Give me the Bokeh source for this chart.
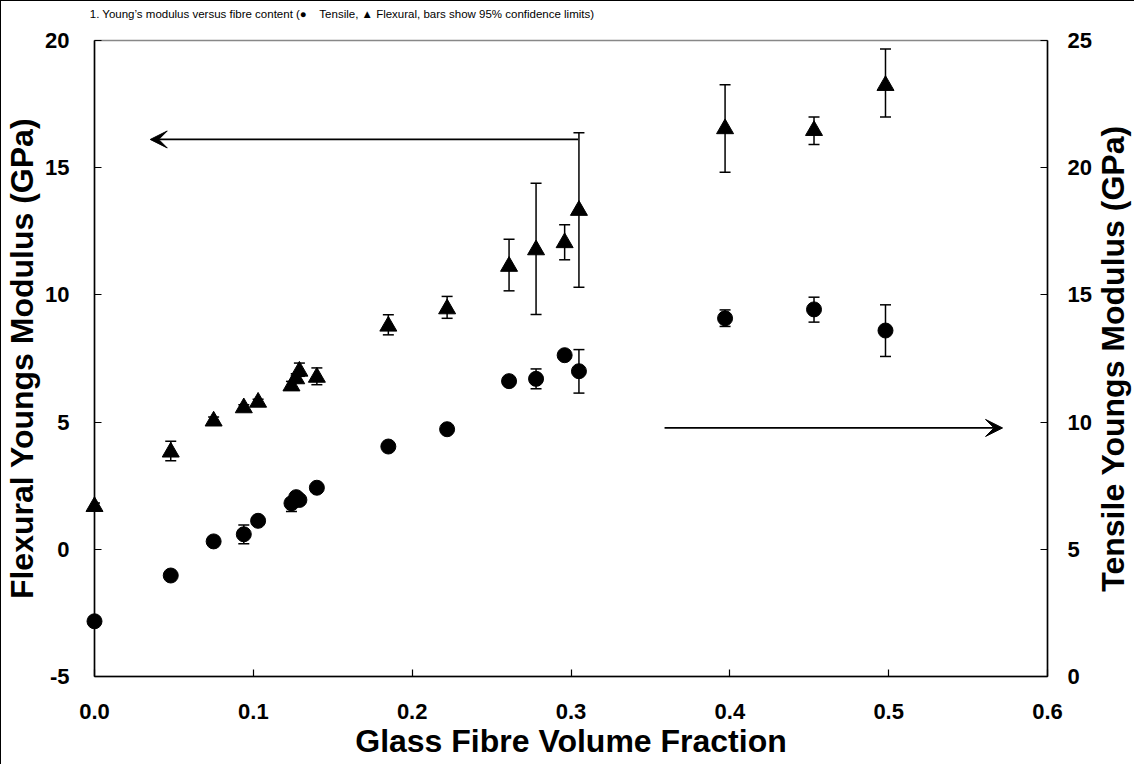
import math
from bokeh.plotting import figure
from bokeh.models import (Range1d, LinearAxis, FixedTicker, NumeralTickFormatter,
                          ColumnDataSource, Whisker, TeeHead, Arrow, VeeHead)
from bokeh.core.properties import value
from bokeh.embed import file_html
from bokeh.resources import INLINE

# ---- data ----
fibre_fraction = [0.0, 0.048, 0.075, 0.094, 0.103, 0.124, 0.127, 0.129, 0.140,
                  0.185, 0.222, 0.261, 0.278, 0.296, 0.305, 0.397, 0.453, 0.498]

flexural = [1.68, 3.82, 5.04, 5.56, 5.78, 6.42, 6.70, 7.00, 6.76,
            8.77, 9.45, 11.12, 11.77, 12.05, 13.32, 16.53, 16.46, 18.23]
flexural_lo = [1.55, 3.48, 4.90, 5.45, 5.68, 6.30, 6.55, 6.80, 6.47,
               8.43, 9.08, 10.16, 9.23, 11.38, 10.30, 14.82, 15.91, 16.99]
flexural_hi = [1.82, 4.25, 5.20, 5.68, 5.90, 6.60, 6.90, 7.32, 7.13,
               9.22, 9.94, 12.19, 14.39, 12.76, 16.37, 18.26, 16.99, 19.67]

tensile = [2.17, 3.97, 5.31, 5.59, 6.12, 6.81, 7.05, 6.94, 7.42,
           9.04, 9.72, 11.61, 11.70, 12.63, 12.00, 14.08, 14.43, 13.60]
tensile_lo = [2.07, 3.87, 5.21, 5.22, 6.02, 6.49, 6.95, 6.84, 7.32,
              8.94, 9.62, 11.51, 11.31, 12.53, 11.14, 13.76, 13.93, 12.58]
tensile_hi = [2.27, 4.07, 5.41, 5.96, 6.22, 6.91, 7.15, 7.04, 7.52,
              9.14, 9.82, 11.71, 12.09, 12.73, 12.85, 14.41, 14.91, 14.61]

x_ticks = [0.0, 0.1, 0.2, 0.3, 0.4, 0.5, 0.6]
left_ticks = [-5, 0, 5, 10, 15, 20]
right_ticks = [0, 5, 10, 15, 20, 25]

title_text = ("1. Young\u2019s modulus versus fibre content (\u25cf\u00a0\u00a0\u00a0 Tensile, "
              "\u25b2 Flexural, bars show 95% confidence limits)")
x_label = "Glass Fibre Volume Fraction"
left_label = "Flexural Youngs Modulus (GPa)"
right_label = "Tensile Youngs Modulus (GPa)"

# arrows pointing to the axes (data units of the left axis)
flex_arrow = dict(x_start=0.3045, x_end=0.0351, y=16.11)
tens_arrow = dict(x_start=0.3589, x_end=0.5717, y=4.77)

# margin text anchors (data units of the x / left axis)
title_pos = dict(x=-0.003, y=21.06)
right_label_pos = dict(x=0.6415, y=7.5)

FONT = "Liberation Sans"

p = figure(width=1134, height=764, x_range=Range1d(0, 0.6), y_range=Range1d(-5, 20),
           output_backend="svg", toolbar_location=None,
           min_border_left=93, min_border_right=88, min_border_top=39, min_border_bottom=89)
p.extra_y_ranges = {"right": Range1d(0, 25)}
p.add_layout(LinearAxis(y_range_name="right"), "right")

p.xgrid.visible = False
p.ygrid.visible = False
p.outline_line_color = "#888888"
p.outline_line_width = 1.5
p.background_fill_color = "white"
p.border_fill_color = "white"
p.styles = {"border-left": "1px solid black", "border-top": "1px solid black"}

for ax in p.xaxis + p.yaxis:
    ax.axis_line_color = "black"
    ax.axis_line_width = 1.5
    ax.major_tick_line_color = "black"
    ax.major_tick_line_width = 1.2
    ax.major_tick_in = 7
    ax.major_tick_out = 0
    ax.minor_tick_line_color = None
    ax.major_label_text_font = FONT
    ax.major_label_text_font_style = "bold"
    ax.major_label_text_font_size = "22px"
    ax.major_label_text_color = "black"
    ax.axis_label_text_font = FONT
    ax.axis_label_text_font_style = "bold"
    ax.axis_label_text_font_size = "32px"
    ax.axis_label_text_color = "black"

xa = p.xaxis[0]
xa.ticker = FixedTicker(ticks=x_ticks)
xa.formatter = NumeralTickFormatter(format="0.0")
xa.axis_label = x_label
xa.major_label_standoff = 27
xa.axis_label_standoff = 1

la = p.yaxis[0]
la.ticker = FixedTicker(ticks=left_ticks)
la.major_label_overrides = {t: str(t) for t in left_ticks}
la.axis_label = left_label
la.major_label_standoff = 25
la.axis_label_standoff = 2

ra = p.yaxis[1]
ra.ticker = FixedTicker(ticks=right_ticks)
ra.major_label_standoff = 20

src = ColumnDataSource(dict(x=fibre_fraction,
                            flex=flexural, flex_lo=flexural_lo, flex_hi=flexural_hi,
                            tens=tensile, tens_lo=tensile_lo, tens_hi=tensile_hi))

def tee():
    return TeeHead(size=11, line_width=1.5, line_color="black")

p.add_layout(Whisker(source=src, base="x", lower="flex_lo", upper="flex_hi",
                     dimension="height", line_width=1.5, line_color="black",
                     lower_head=tee(), upper_head=tee()))
p.add_layout(Whisker(source=src, base="x", lower="tens_lo", upper="tens_hi",
                     dimension="height", line_width=1.5, line_color="black",
                     lower_head=tee(), upper_head=tee(), y_range_name="right"))

r1 = p.scatter("x", "flex", source=src, marker="triangle", size=17,
               fill_color="black", line_color="black")
r2 = p.scatter("x", "tens", source=src, marker="circle", size=15,
               fill_color="black", line_color="black", y_range_name="right")
r1.level = "overlay"
r2.level = "overlay"

for a in (flex_arrow, tens_arrow):
    p.add_layout(Arrow(x_start=a["x_start"], y_start=a["y"], x_end=a["x_end"], y_end=a["y"],
                       line_width=1.8, line_color="black",
                       end=VeeHead(size=17, fill_color="black", line_color="black",
                                   line_width=1)))

# title and right-axis title drawn as unclipped text glyphs in the margins
t1 = p.text(x=[title_pos["x"]], y=[title_pos["y"]], text=[title_text],
            text_font=value(FONT), text_font_size=value("11.5px"), text_color="black",
            text_align="left", text_baseline="middle")
t2 = p.text(x=[right_label_pos["x"]], y=[right_label_pos["y"]], text=[right_label],
            text_font=value(FONT), text_font_size=value("32px"), text_font_style="bold",
            text_color="black", text_align="center", text_baseline="middle",
            angle=math.pi / 2)
t1.level = "overlay"
t2.level = "overlay"

open("out.html", "w").write(file_html(p, INLINE))
